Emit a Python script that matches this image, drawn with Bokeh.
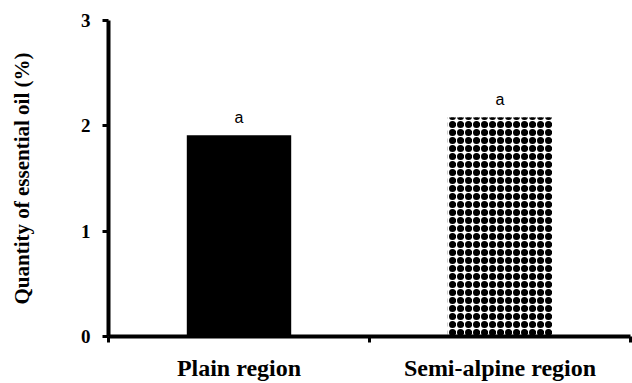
from bokeh.plotting import figure
from bokeh.models import Range1d, FixedTicker, ColumnDataSource, CDSView, IndexFilter
from bokeh.core.properties import value
from bokeh.embed import file_html
from bokeh.resources import INLINE

categories = ["Plain region", "Semi-alpine region"]
oil = [1.91, 2.08]
letters = ["a", "a"]
ticks_y = [0, 1, 2, 3]

xpos = [i + 0.5 for i in range(len(categories))]
src = ColumnDataSource(dict(x=xpos, top=oil, lab=letters))

p = figure(width=632, height=383, output_backend="svg", toolbar_location=None,
           x_range=Range1d(0, len(categories)), y_range=Range1d(0, 3),
           min_border_left=108, min_border_right=2, min_border_top=20,
           min_border_bottom=10)
p.outline_line_color = None
p.grid.visible = False
p.background_fill_color = "white"

v0 = CDSView(filter=IndexFilter([0]))
v1 = CDSView(filter=IndexFilter([1]))

# Plain region: solid black
p.vbar(x="x", top="top", width=0.40, source=src, view=v0,
       fill_color="black", line_color=None)
# Semi-alpine region: white with dense black checker (dot + ring hatches)
p.vbar(x="x", top="top", width=0.40, source=src, view=v1,
       fill_color="white", line_color=None, hatch_pattern="dot",
       hatch_color="black", hatch_scale=8, hatch_weight=1)
p.vbar(x="x", top="top", width=0.40, source=src, view=v1,
       fill_color=None, line_color=None, hatch_pattern="ring",
       hatch_color="black", hatch_scale=8, hatch_weight=3)

p.text(x="x", y="top", text="lab", source=src, text_align="center",
       text_baseline="bottom", y_offset=-9, text_font=value("Liberation Sans"),
       text_font_size="16px", text_color="black")

# y axis
ya = p.yaxis[0]
ya.ticker = FixedTicker(ticks=ticks_y)
ya.axis_line_width = 4
ya.axis_line_color = "black"
ya.major_tick_line_width = 3
ya.major_tick_line_color = "black"
ya.major_tick_out = 6
ya.major_tick_in = 0
ya.minor_tick_line_color = None
ya.major_label_text_font = "Liberation Serif"
ya.major_label_text_font_style = "bold"
ya.major_label_text_font_size = "19px"
ya.major_label_text_color = "black"
ya.major_label_standoff = 12
ya.axis_label = "Quantity of essential oil (%)"
ya.axis_label_text_font = "Liberation Serif"
ya.axis_label_text_font_style = "bold"
ya.axis_label_text_font_size = "21px"
ya.axis_label_text_color = "black"
ya.axis_label_standoff = 44

# x axis: category labels at centres, tick marks at category boundaries
xa = p.xaxis[0]
xa.ticker = FixedTicker(ticks=xpos, minor_ticks=list(range(len(categories) + 1)))
xa.major_label_overrides = {x: c for x, c in zip(xpos, categories)}
xa.axis_line_width = 4
xa.axis_line_color = "black"
xa.major_tick_line_color = None
xa.major_tick_out = 0
xa.major_tick_in = 0
xa.minor_tick_line_width = 3
xa.minor_tick_line_color = "black"
xa.minor_tick_out = 6
xa.minor_tick_in = 0
xa.major_label_text_font = "Liberation Serif"
xa.major_label_text_font_style = "bold"
xa.major_label_text_font_size = "24px"
xa.major_label_text_color = "black"
xa.major_label_standoff = 12

open("out.html", "w").write(file_html(p, INLINE))
